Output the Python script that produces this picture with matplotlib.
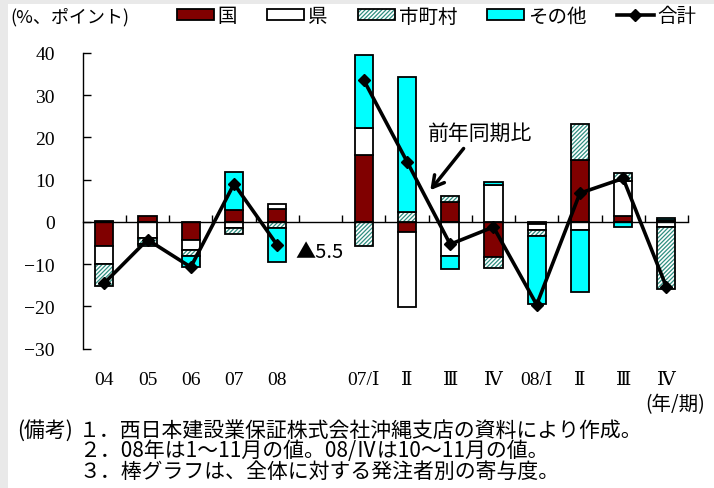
import numpy as np
import matplotlib
matplotlib.use('Agg')
import matplotlib.pyplot as plt
from matplotlib.patches import Patch, Rectangle
from matplotlib.lines import Line2D
import matplotlib.transforms as mtransforms

plt.rcParams['font.family'] = ['Noto Sans CJK JP', 'DejaVu Sans']
plt.rcParams['hatch.linewidth'] = 0.9
plt.rcParams['axes.unicode_minus'] = True

# data (寄与度, %ポイント)
categories = ['04', '05', '06', '07', '08',
              '07/Ⅰ', 'Ⅱ', 'Ⅲ', 'Ⅳ', '08/Ⅰ', 'Ⅱ', 'Ⅲ', 'Ⅳ']
kuni = [-5.8, 1.4, -4.2, 2.7, 3.1, 15.9, -2.4, 4.8, -8.4, -0.5, 14.7, 1.3, 0.4]
ken = [-4.2, -3.9, -2.4, -1.4, 1.1, 6.3, -17.8, -8.1, 8.8, -1.3, -1.9, 8.4, -1.1]
shichoson = [-5.1, -1.3, -1.5, -1.4, -1.4, -5.6, 2.4, 1.3, -2.4, -1.6, 8.5, 1.9, -14.8]
sonota = [0.3, -0.4, -2.5, 9.0, -8.2, 17.3, 32.0, -3.0, 0.6, -16.0, -14.6, -1.3, 0.5]
total = [-14.5, -4.2, -10.7, 9.0, -5.5, 33.6, 14.3, -5.3, -1.2, -19.6, 6.8, 10.3, -15.4]

# annual bars 0-4, gap, quarterly 6-13
xpos = np.array(list(range(5)) + list(range(6, 14)))
n_year = 5

fig = plt.figure(figsize=(7.14, 4.89), dpi=100)
fig.patch.set_facecolor('#e9e9e9')
fig.add_artist(Rectangle((8/714, 0), 1, 1 - 5/489, transform=fig.transFigure,
                         facecolor='white', edgecolor='none', zorder=-10))

ax = fig.add_axes([0.1158, 0.2851, 0.9636 - 0.1158, 0.8896 - 0.2851])
ax.patch.set_visible(False)

w = 0.42
teal = '#2e8e80'
pos_base = np.zeros(len(xpos))
neg_base = np.zeros(len(xpos))
series = [(kuni, '#800000', None), (ken, 'white', None),
          (shichoson, 'white', '////////'), (sonota, '#00ffff', None)]
for vals, col, hatch in series:
    v = np.array(vals)
    bottom = np.where(v >= 0, pos_base, neg_base)
    if hatch:
        ax.bar(xpos, v, w, bottom=bottom, color='white', edgecolor=teal,
               hatch=hatch, linewidth=0, zorder=2)
        ax.bar(xpos, v, w, bottom=bottom, fill=False, edgecolor='black',
               linewidth=1.3, zorder=2)
    else:
        ax.bar(xpos, v, w, bottom=bottom, color=col, edgecolor='black',
               linewidth=1.3, zorder=2)
    pos_base = pos_base + np.where(v >= 0, v, 0)
    neg_base = neg_base + np.where(v < 0, v, 0)

t = np.array(total)
ax.plot(xpos[:n_year], t[:n_year], color='black', lw=2.6, marker='D', ms=6, zorder=4)
ax.plot(xpos[n_year:], t[n_year:], color='black', lw=2.6, marker='D', ms=6, zorder=4)

ax.set_xlim(-0.5, 13.5)
ax.set_ylim(-30, 40)
ax.set_yticks(range(-30, 41, 10))
ax.spines['top'].set_visible(False)
ax.spines['right'].set_visible(False)
ax.spines['bottom'].set_position(('data', 0))
ax.spines['left'].set_linewidth(1.0)
ax.spines['bottom'].set_linewidth(1.0)
ax.tick_params(axis='y', direction='in', length=6, width=1.0, pad=20)
ax.set_xticks(np.arange(0.5, 14, 1))
ax.tick_params(axis='x', direction='in', length=5, width=1.0, labelbottom=False)
for lab in ax.get_yticklabels():
    lab.set_family(['Liberation Serif', 'DejaVu Serif'])
    lab.set_fontsize(14)

trans = mtransforms.blended_transform_factory(ax.transData, ax.transAxes)
for x, c in zip(xpos, categories):
    ax.text(x, -0.103, c, transform=trans, ha='center', va='center', fontsize=14,
            family=['Liberation Serif', 'DejaVu Serif', 'Noto Sans CJK JP'])

ax.text(4.42, -7.0, '▲5.5', ha='left', va='center', fontsize=14.5,
        family=['Noto Sans CJK JP', 'DejaVu Sans'])
ax.text(8.7, 21.0, '前年同期比', ha='center', va='center', fontsize=15)
ax.annotate('', xy=(7.5, 7.0), xytext=(8.35, 17.9),
            arrowprops=dict(arrowstyle='->,head_length=0.8,head_width=0.45',
                            lw=2.5, color='black'))

# legend
handles = [Patch(facecolor='#800000', edgecolor='black', lw=1.3),
           Patch(facecolor='white', edgecolor='black', lw=1.3),
           (Patch(facecolor='white', edgecolor=teal, hatch='////////', lw=0),
            Patch(fill=False, edgecolor='black', lw=1.3)),
           Patch(facecolor='#00ffff', edgecolor='black', lw=1.3),
           Line2D([], [], color='black', lw=2.6, marker='D', ms=6)]
labels = ['国', '県', '市町村', 'その他', '合計']
fig.legend(handles, labels, loc='center left', bbox_to_anchor=(177/714, 1 - 17/489),
           ncol=5, frameon=False, fontsize=14, handlelength=1.9, handleheight=0.55,
           handletextpad=0.2, columnspacing=1.55, borderaxespad=0, borderpad=0)

fig.text(10/714, 1 - 17/489, '(%、ポイント)', ha='left', va='center', fontsize=13)
fig.text(705/714, 1 - 405/489, '(年/期)', ha='right', va='center', fontsize=14)

fig.text(17/714, 1 - 431/489, '(備考)', ha='left', va='center', fontsize=15)
notes = ['１．西日本建設業保証株式会社沖縄支店の資料により作成。',
         '２．08年は1～11月の値。08/Ⅳは10～11月の値。',
         '３．棒グラフは、全体に対する発注者別の寄与度。']
for i, s in enumerate(notes):
    fig.text(79/714, 1 - (431 + 20.5*i)/489, s, ha='left', va='center', fontsize=15)

fig.savefig('out.png', dpi=100)
